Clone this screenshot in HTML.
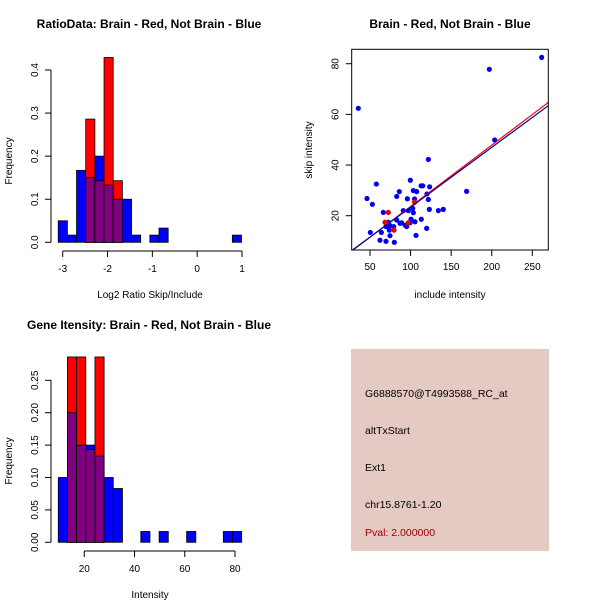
<!DOCTYPE html>
<html><head><meta charset="utf-8"><style>
html,body{margin:0;padding:0;background:#fff;}
svg{display:block;font-family:"Liberation Sans",Arial,sans-serif;}
</style></head><body>
<svg id="c" width="600" height="600" viewBox="0 0 600 600" xmlns="http://www.w3.org/2000/svg">
<rect width="600" height="600" fill="#fff"/>
<g id="p1">
<text x="149" y="28" text-anchor="middle" font-size="12" font-weight="bold">RatioData: Brain - Red, Not Brain - Blue</text>
<text x="150" y="298" text-anchor="middle" font-size="10">Log2 Ratio Skip/Include</text>
<text transform="translate(12,161) rotate(-90)" text-anchor="middle" font-size="10">Frequency</text>
</g>
<g id="p3">
<text x="149" y="329" text-anchor="middle" font-size="12" font-weight="bold">Gene Itensity: Brain - Red, Not Brain - Blue</text>
<text x="150" y="598" text-anchor="middle" font-size="10">Intensity</text>
<text transform="translate(12,461) rotate(-90)" text-anchor="middle" font-size="10">Frequency</text>
</g>
<g id="p2">
<text x="450" y="28" text-anchor="middle" font-size="12" font-weight="bold">Brain - Red, Not Brain - Blue</text>
<text x="450" y="298" text-anchor="middle" font-size="10">include intensity</text>
<text transform="translate(312,150) rotate(-90)" text-anchor="middle" font-size="10">skip intensity</text>
</g>
<g>
<rect x="351" y="349" width="198" height="202" fill="#e5c9c3"/>
<text x="365" y="397" font-size="10.5">G6888570@T4993588_RC_at</text>
<text x="365" y="434" font-size="10.5">altTxStart</text>
<text x="365" y="471" font-size="10.5">Ext1</text>
<text x="365" y="508" font-size="10.5">chr15.8761-1.20</text>
<text x="365" y="536" font-size="10.5" fill="#a00000">Pval: 2.000000</text>
</g>
</svg>
<script>
// Ratio histogram data
const ratioBinStart = -3.1;
const ratioBinWidth = 0.2044;
const ratioBlue = [0.05,0.0167,0.167,0.15,0.2,0.133,0.1,0.1,0.0167,0,0.0167,0.033,0,0,0,0,0,0,0,0.0167];
const ratioRed  = [0,0,0,0.286,0.143,0.429,0.143,0,0,0,0,0,0,0,0,0,0,0,0,0];
const ratioXTicks = [-3,-2,-1,0,1];
const ratioYTicks = [0,0.1,0.2,0.3,0.4];
const ratioYLabels = ["0.0","0.1","0.2","0.3","0.4"];
// Intensity histogram data
const intBinStart = 9.64;
const intBinWidth = 3.65;
const intBlue = [0.1,0.2,0.15,0.15,0.133,0.1,0.083,0,0,0.0167,0,0.0167,0,0,0.0167,0,0,0,0.0167,0.0167];
const intRed  = [0,0.286,0.286,0.143,0.286,0,0,0,0,0,0,0,0,0,0,0,0,0,0,0];
const intXTicks = [20,40,60,80];
const intYTicks = [0,0.05,0.1,0.15,0.2,0.25];
const intYLabels = ["0.00","0.05","0.10","0.15","0.20","0.25"];
// Scatter data
const blueX = [35.6,261.5,197,203.6,169,121.9,46.3,52.9,57.8,50.4,66.4,62.3,69.7,80,64,72.6,73.8,74.6,82.9,86.1,79.2,82.9,89,95.2,96,99.7,100.5,103.4,107.5,104.9,102.6,103.4,97.2,105.4,106.7,113,115,113.2,119.8,120.2,121.9,123.5,123.1,134.2,140.3,91,93.4,99.3,87,74.6,69.7];
const blueY = [62.4,82.5,77.8,49.9,29.6,42.2,26.8,24.5,32.5,13.4,21.3,10.3,9.9,9.5,13.4,17.4,14.3,12.1,27.6,29.5,15.7,18.3,17.2,15.7,26.7,34,18.6,29.9,29.5,26.6,22.9,21.2,22,17.6,12.2,31.8,31.8,18.6,15,28.6,26.4,31.4,22.5,22,22.5,22,16.2,17.2,17,16.1,15.7];
const redX = [72.6,68.5,79.6,97,105];
const redY = [21.3,17.4,14.3,17.2,25.3];
const blueFit = [-0.27,0.2362]; // intercept, slope
const redFit = [-0.6,0.2422];
const scXTicks = [50,100,150,200,250];
const scYTicks = [20,40,60,80];

const NS="http://www.w3.org/2000/svg";
function mk(parent,tag,attrs){const e=document.createElementNS(NS,tag);for(const k in attrs)e.setAttribute(k,attrs[k]);parent.appendChild(e);return e;}

function hist(g,prefix,binStart,binW,blue,red,xs,ys,xt,yt,ylab,axY,xAxisY){
  for(let i=0;i<blue.length;i++){
    const x0=xs(binStart+i*binW), x1=xs(binStart+(i+1)*binW);
    const b=blue[i], r=red[i], m=Math.min(b,r);
    if(b>0){const e=mk(g,'rect',{x:x0,y:ys(b),width:x1-x0,height:ys(0)-ys(b),fill:'#0000ff',stroke:'#000','stroke-width':0.8});
      
      }
    if(r>0){const e=mk(g,'rect',{x:x0,y:ys(r),width:x1-x0,height:ys(0)-ys(r),fill:'#ff0000',stroke:'#000','stroke-width':0.8});
      
      }
    if(m>0){const e=mk(g,'rect',{x:x0,y:ys(m),width:x1-x0,height:ys(0)-ys(m),fill:'#800080',stroke:'#000','stroke-width':0.8});
      
      }
  }
  const ax=mk(g,'line',{x1:xs(xt[0]),x2:xs(xt[xt.length-1]),y1:xAxisY,y2:xAxisY,stroke:'#000'});
  
  
  xt.forEach(v=>{mk(g,'line',{x1:xs(v),x2:xs(v),y1:xAxisY,y2:xAxisY+6,stroke:'#000'});
    const t=mk(g,'text',{x:xs(v),y:xAxisY+21,'text-anchor':'middle','font-size':10});t.textContent=String(v);
    
    });
  const ay=mk(g,'line',{x1:axY,x2:axY,y1:ys(yt[0]),y2:ys(yt[yt.length-1]),stroke:'#000'});
  
  
  yt.forEach((v,i)=>{mk(g,'line',{x1:axY,x2:axY-6,y1:ys(v),y2:ys(v),stroke:'#000'});
    const t=mk(g,'text',{transform:`translate(${axY-13},${ys(v)}) rotate(-90)`,'text-anchor':'middle','font-size':10});t.textContent=ylab[i];
    
    });
}
// Ratio
const xs1=v=>62.7+(v+3)*44.83, ys1=v=>242.3-v*430.75;
hist(document.getElementById('p1'),'ratio',ratioBinStart,ratioBinWidth,ratioBlue,ratioRed,xs1,ys1,ratioXTicks,ratioYTicks,ratioYLabels,51,251);
// Intensity
const xs3=v=>84.3+(v-20)*2.512, ys3=v=>542.3-v*648;
hist(document.getElementById('p3'),'intensity',intBinStart,intBinWidth,intBlue,intRed,xs3,ys3,intXTicks,intYTicks,intYLabels,51,551);
// Scatter
const g2=document.getElementById('p2');
const L=351.7,R=548.3,T=49.3,B=250;
const xs2=v=>370+(v-50)*0.8117, ys2=v=>215.7-(v-20)*2.533;
const cp=mk(g2,'clipPath',{id:'clip2'});mk(cp,'rect',{x:L,y:T,width:R-L,height:B-T});
function fitLine(f,color,name){const xa=(L-370)/0.8117+50, xb=(R-370)/0.8117+50;
  const e=mk(g2,'line',{x1:xs2(xa),y1:ys2(f[0]+f[1]*xa),x2:xs2(xb),y2:ys2(f[0]+f[1]*xb),stroke:color,'stroke-width':1.2,'clip-path':'url(#clip2)'});
  
  }
blueX.forEach((x,i)=>{const e=mk(g2,'circle',{cx:xs2(x),cy:ys2(blueY[i]),r:2.6,fill:'#0000ee','clip-path':'url(#clip2)'});
  
  });
redX.forEach((x,i)=>{const e=mk(g2,'circle',{cx:xs2(x),cy:ys2(redY[i]),r:2.6,fill:'#ee0000','clip-path':'url(#clip2)'});
  
  });
fitLine(redFit,'#ff0000','red-fit-line');
fitLine(blueFit,'#000099','blue-fit-line');
const box=mk(g2,'rect',{x:L,y:T,width:R-L,height:B-T,fill:'none',stroke:'#000'});


scXTicks.forEach(v=>{mk(g2,'line',{x1:xs2(v),x2:xs2(v),y1:B,y2:B+6,stroke:'#000'});
  const t=mk(g2,'text',{x:xs2(v),y:B+20,'text-anchor':'middle','font-size':10});t.textContent=String(v);
  
  });
scYTicks.forEach(v=>{mk(g2,'line',{x1:L,x2:L-6,y1:ys2(v),y2:ys2(v),stroke:'#000'});
  const t=mk(g2,'text',{transform:`translate(${L-13},${ys2(v)}) rotate(-90)`,'text-anchor':'middle','font-size':10});t.textContent=String(v);
  
  });
</script>
</body></html>
